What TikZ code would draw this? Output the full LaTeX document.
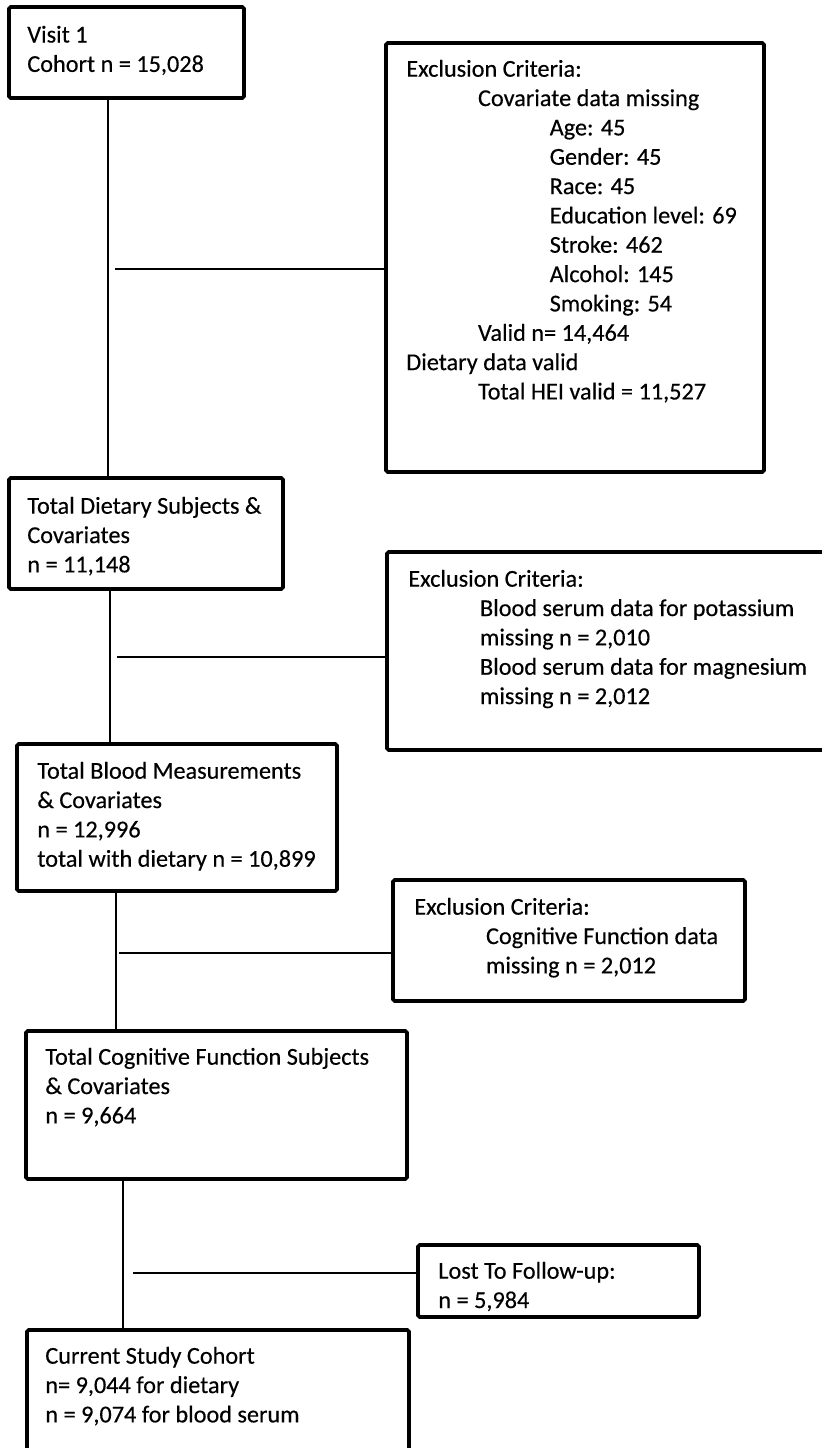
\documentclass[tikz,border=0pt]{standalone}
\usepackage{fontspec}
\setmainfont{Carlito}[FakeBold=0.35]
\usepackage{tikz}
\usetikzlibrary{fit}

\newcommand{\tabin}{\hspace*{40.8pt}}

\begin{document}
\begin{tikzpicture}[x=0.02cm, y=-0.02cm,
        box/.style={draw, line width=2.1pt, rounded corners=1pt, inner sep=0pt},
        txt/.style={anchor=north west, inner sep=0pt, align=left,
            font=\fontsize{13.8}{16.7}\selectfont, execute at begin node=\strut},
        link/.style={draw, line width=0.6pt}]
    \useasboundingbox (0,0) rectangle (822,1448);

    \node[box, fit={(9,7) (244,98)}] (visit) {};
    \node[txt] (visitText) at (27,25.5) {Visit 1\\Cohort n = 15,028};

    \node[box, fit={(386,43) (764,472)}] (exclA) {};
    \node[txt] (exclAText) at (406,59.5) {Exclusion Criteria:\\
        \tabin Covariate data missing\\
        \tabin\tabin Age: 45\\
        \tabin\tabin Gender: 45\\
        \tabin\tabin Race: 45\\
        \tabin\tabin Education level: 69\\
        \tabin\tabin Stroke: 462\\
        \tabin\tabin Alcohol: 145\\
        \tabin\tabin Smoking: 54\\
        \tabin Valid n= 14,464\\
        Dietary data valid\\
        \tabin Total HEI valid = 11,527};

    \node[box, fit={(9,478) (283,589)}] (diet) {};
    \node[txt] (dietText) at (27,496.5) {Total Dietary Subjects \&\\Covariates\\n = 11,148};

    \node[box, fit={(387,552) (826,750)}] (exclB) {};
    \node[txt] (exclBText) at (408,569.5) {Exclusion Criteria:\\
        \tabin Blood serum data for potassium\\
        \tabin missing n = 2,010\\
        \tabin Blood serum data for magnesium\\
        \tabin missing n = 2,012};

    \node[box, fit={(17,744) (337,891)}] (blood) {};
    \node[txt] (bloodText) at (37,761.5) {Total Blood Measurements\\\& Covariates\\n = 12,996\\total with dietary n = 10,899};

    \node[box, fit={(393,880) (745,1001)}] (exclC) {};
    \node[txt] (exclCText) at (414,897.5) {Exclusion Criteria:\\
        \tabin Cognitive Function data\\
        \tabin missing n = 2,012};

    \node[box, fit={(26,1031) (407,1179)}] (cogn) {};
    \node[txt] (cognText) at (45,1047.5) {Total Cognitive Function Subjects\\\& Covariates\\n = 9,664};

    \node[box, fit={(418,1245) (699,1317)}] (lost) {};
    \node[txt] (lostText) at (438,1261.5) {Lost To Follow-up:\\n = 5,984};

    \node[box, fit={(27,1330) (409,1452)}] (current) {};
    \node[txt] (currentText) at (45,1346.5) {Current Study Cohort\\n= 9,044 for dietary\\n = 9,074 for blood serum};

    \coordinate (trunkA) at (108,0);
    \coordinate (trunkB) at (110,0);
    \coordinate (trunkC) at (116,0);
    \coordinate (trunkD) at (123,0);
    \draw[link] (trunkA |- visit.south) -- (trunkA |- diet.north);
    \draw[link] (trunkB |- diet.south) -- (trunkB |- blood.north);
    \draw[link] (trunkC |- blood.south) -- (trunkC |- cogn.north);
    \draw[link] (trunkD |- cogn.south) -- (trunkD |- current.north);

    \coordinate (branchA) at (115,269);
    \coordinate (branchB) at (117,657);
    \coordinate (branchC) at (119,953);
    \coordinate (branchD) at (133,1273);
    \draw[link] (branchA) -- (branchA -| exclA.west);
    \draw[link] (branchB) -- (branchB -| exclB.west);
    \draw[link] (branchC) -- (branchC -| exclC.west);
    \draw[link] (branchD) -- (branchD -| lost.west);
\end{tikzpicture}
\end{document}
